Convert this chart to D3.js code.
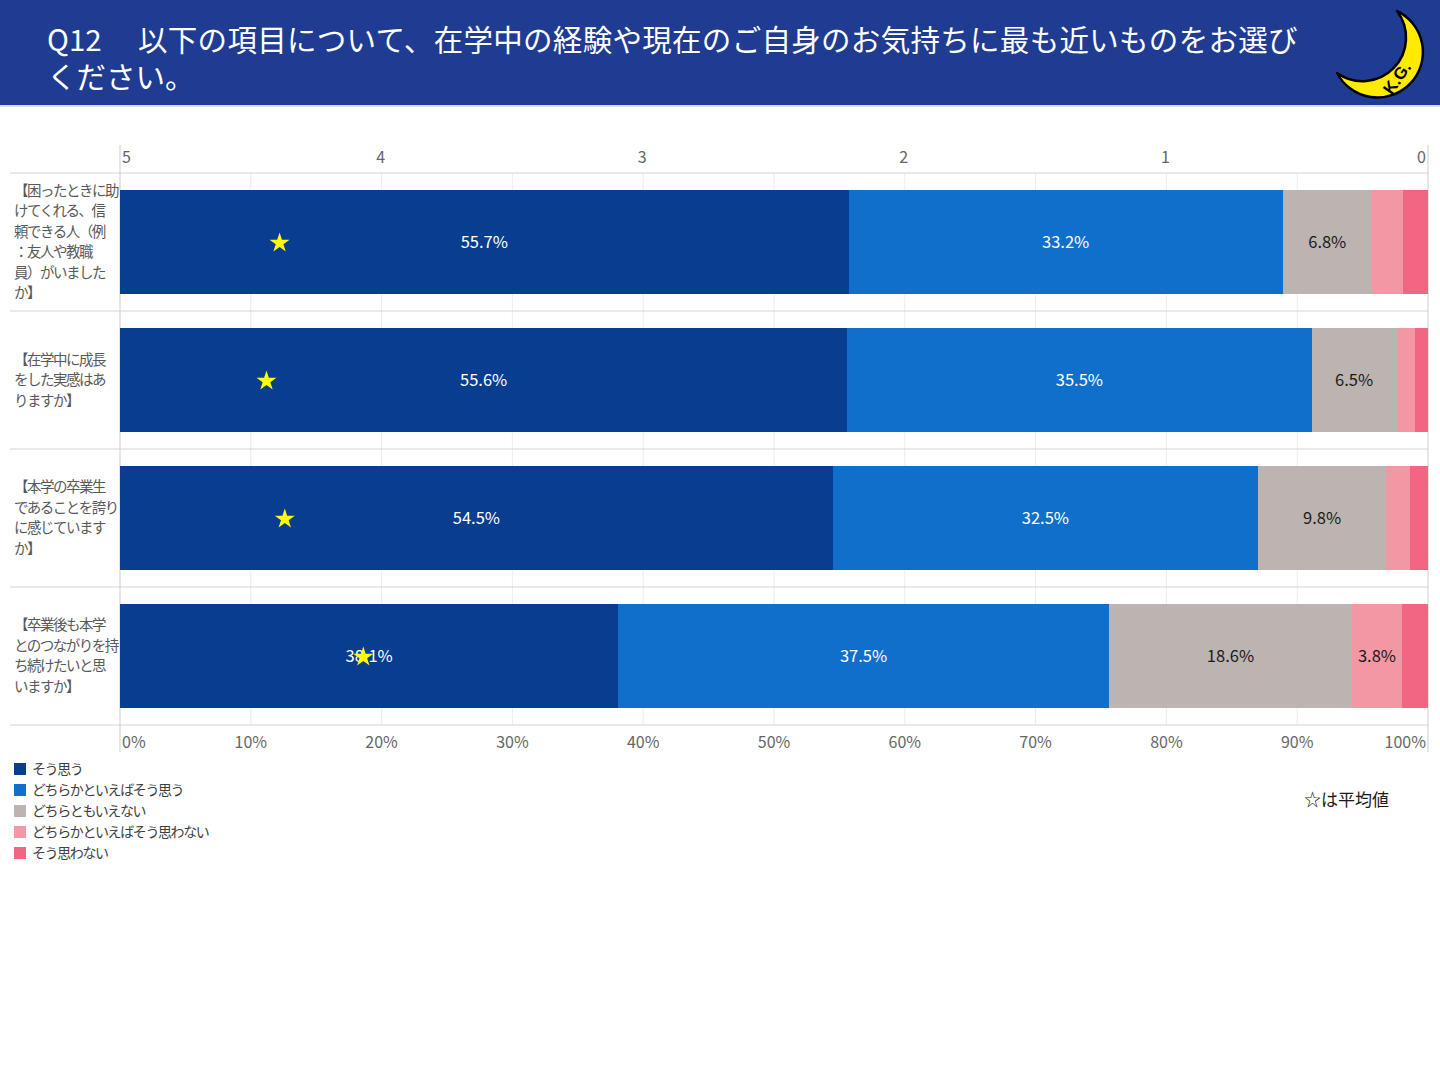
<!DOCTYPE html>
<html>
<head>
<meta charset="utf-8">
<script src="https://cdn.jsdelivr.net/npm/d3@7"></script>
<style>
  html, body { margin: 0; padding: 0; background: #fff; }
  svg { display: block; font-family: "Noto Sans CJK JP", "Noto Sans", sans-serif; }
</style>
</head>
<body>
<div id="chart"></div>
<script>
// question items (wrapped the way the slide wraps them)
var categories = [
    ["【困ったときに助", "けてくれる、信", "頼できる人（例", "：友人や教職", "員）がいました", "か】"],
    ["【在学中に成長", "をした実感はあ", "りますか】"],
    ["【本学の卒業生", "であることを誇り", "に感じています", "か】"],
    ["【卒業後も本学", "とのつながりを持", "ち続けたいと思", "いますか】"]
];
var seriesNames = ["そう思う", "どちらかといえばそう思う", "どちらともいえない", "どちらかといえばそう思わない", "そう思わない"];
var seriesColors = ["#093d8f", "#0f6fcb", "#bcb4b1", "#f497a4", "#f36683"];
var labelColors = ["#ffffff", "#ffffff", "#1a1a1a", "#1a1a1a", "#1a1a1a"];

// percentages per item, one array per answer
var agree        = [55.7, 55.6, 54.5, 38.1];
var ratherAgree  = [33.2, 35.5, 32.5, 37.5];
var neither      = [6.8, 6.5, 9.8, 18.6];
var ratherNot    = [2.4, 1.4, 1.8, 3.8];
var disagree     = [1.9, 1.0, 1.4, 2.0];

// mean score (5 = そう思う ... 1) shown as a star on the top axis
var averages = [4.39, 4.44, 4.37, 4.07];

var pctTicks = [0, 10, 20, 30, 40, 50, 60, 70, 80, 90, 100];
var scoreTicks = [5, 4, 3, 2, 1, 0];

var titleLead = "Q12";
var titleLine1 = "以下の項目について、在学中の経験や現在のご自身のお気持ちに最も近いものをお選び";
var titleLine2 = "ください。";
var noteText = "☆は平均値";

var width = 1440, height = 1080;
var plotLeft = 120, plotRight = 1428, plotTop = 173, plotBottom = 725;

var svg = d3.select("#chart").append("svg")
    .attr("width", width)
    .attr("height", height);

// header band
svg.append("rect").attr("x", 0).attr("y", 0).attr("width", width).attr("height", 105).attr("fill", "#1f3c92");
svg.append("rect").attr("x", 0).attr("y", 105).attr("width", width).attr("height", 2).attr("fill", "#d5deef");

var title = svg.append("text").attr("fill", "#fff").attr("font-size", 29.5);
title.append("tspan").attr("x", 47).attr("y", 51).text(titleLead);
title.append("tspan").attr("x", 138).attr("y", 51).attr("letter-spacing", 0.3).text(titleLine1);
title.append("tspan").attr("x", 47).attr("y", 88).attr("letter-spacing", 0).text(titleLine2);

// moon logo
var moon = svg.append("g");
moon.append("path")
    .attr("d", "M1397,11 A45.5,45.5 0 1 1 1337,73 A43.6,43.6 0 0 0 1397,11 Z")
    .attr("fill", "#ffeb00")
    .attr("stroke", "#000")
    .attr("stroke-width", 2.5)
    .attr("stroke-linejoin", "round");
moon.append("text")
    .attr("transform", "translate(1397,78) rotate(-55)")
    .attr("text-anchor", "middle")
    .attr("dy", "0.35em")
    .attr("font-family", "Liberation Sans, Arial, sans-serif")
    .attr("font-size", 17)
    .attr("font-weight", "bold")
    .attr("fill", "#000")
    .text("K.G.");

// scales
var x = d3.scaleLinear().domain([0, 100]).range([plotLeft, plotRight]);
var xScore = d3.scaleLinear().domain([5, 0]).range([plotLeft, plotRight]);
var y = d3.scaleBand()
    .domain(d3.range(categories.length))
    .range([plotTop, plotBottom])
    .paddingInner(0.246)
    .paddingOuter(0.123);

// vertical grid
svg.append("g").selectAll("line").data(pctTicks.slice(1, -1)).join("line")
    .attr("x1", function(d) { return x(d); }).attr("x2", function(d) { return x(d); })
    .attr("y1", plotTop).attr("y2", plotBottom)
    .attr("stroke", "#ececec").attr("stroke-width", 1);

// row separators
var step = y.step();
svg.append("g").selectAll("line").data(d3.range(categories.length + 1)).join("line")
    .attr("x1", 10).attr("x2", plotRight)
    .attr("y1", function(i) { return plotTop + i * step; })
    .attr("y2", function(i) { return plotTop + i * step; })
    .attr("stroke", "#d4d4d4").attr("stroke-width", 1);

// left / right frame lines
svg.append("g").selectAll("line").data([plotLeft, plotRight]).join("line")
    .attr("x1", function(d) { return d; }).attr("x2", function(d) { return d; })
    .attr("y1", 145).attr("y2", 752)
    .attr("stroke", "#cfcfcf").attr("stroke-width", 1);

// stacked data
var table = categories.map(function(c, i) {
    return { idx: i, v: [agree[i], ratherAgree[i], neither[i], ratherNot[i], disagree[i]] };
});
var segs = [];
table.forEach(function(row) {
    var acc = 0;
    row.v.forEach(function(v, k) {
        segs.push({ row: row.idx, k: k, x0: acc, x1: acc + v, v: v });
        acc += v;
    });
});

svg.append("g").selectAll("rect").data(segs).join("rect")
    .attr("x", function(d) { return x(d.x0); })
    .attr("width", function(d) { return x(d.x1) - x(d.x0); })
    .attr("y", function(d) { return y(d.row); })
    .attr("height", y.bandwidth())
    .attr("fill", function(d) { return seriesColors[d.k]; })
    .attr("shape-rendering", "crispEdges");

svg.append("g").selectAll("text").data(segs.filter(function(d) { return d.v >= 3; })).join("text")
    .attr("x", function(d) { return (x(d.x0) + x(d.x1)) / 2; })
    .attr("y", function(d) { return y(d.row) + y.bandwidth() / 2; })
    .attr("dy", "0.35em")
    .attr("text-anchor", "middle")
    .attr("font-size", 16.5)
    .attr("fill", function(d) { return labelColors[d.k]; })
    .text(function(d) { return d.v.toFixed(1) + "%"; });

// average stars
svg.append("g").selectAll("path").data(averages).join("path")
    .attr("d", d3.symbol(d3.symbolStar).size(125))
    .attr("transform", function(d, i) {
        return "translate(" + xScore(d) + "," + (y(i) + y.bandwidth() / 2 + 1) + ")";
    })
    .attr("fill", "#ffff00");

// category labels
var lineH = 20.5;
var catG = svg.append("g");
categories.forEach(function(lines, i) {
    var cy = y(i) + y.bandwidth() / 2;
    var t = catG.append("text")
        .attr("font-size", 14.5)
        .attr("letter-spacing", -1.5)
        .attr("fill", "#595959");
    lines.forEach(function(s, j) {
        t.append("tspan")
            .attr("x", 14)
            .attr("y", cy + (j - (lines.length - 1) / 2) * lineH)
            .attr("dy", "0.35em")
            .text(s);
    });
});

// top score axis
svg.append("g").selectAll("text").data(scoreTicks).join("text")
    .attr("x", function(d, i) {
        if (i === 0) return xScore(d) + 2;
        if (i === scoreTicks.length - 1) return xScore(d) - 2;
        return xScore(d) - 1;
    })
    .attr("y", 157)
    .attr("dy", "0.35em")
    .attr("text-anchor", function(d, i) { return i === 0 ? "start" : (i === scoreTicks.length - 1 ? "end" : "middle"); })
    .attr("font-size", 16)
    .attr("fill", "#666")
    .text(function(d) { return d; });

// bottom percent axis
svg.append("g").selectAll("text").data(pctTicks).join("text")
    .attr("x", function(d, i) {
        if (i === 0) return x(d) + 2;
        if (i === pctTicks.length - 1) return x(d) - 2;
        return x(d);
    })
    .attr("y", 742)
    .attr("dy", "0.35em")
    .attr("text-anchor", function(d, i) { return i === 0 ? "start" : (i === pctTicks.length - 1 ? "end" : "middle"); })
    .attr("font-size", 16)
    .attr("fill", "#666")
    .text(function(d) { return d + "%"; });

// legend
var leg = svg.append("g").selectAll("g").data(seriesNames).join("g")
    .attr("transform", function(d, i) { return "translate(14," + (769 + i * 21) + ")"; });
leg.append("rect").attr("x", 0).attr("y", -6).attr("width", 12).attr("height", 12)
    .attr("fill", function(d, i) { return seriesColors[i]; });
leg.append("text").attr("x", 18).attr("y", 0).attr("dy", "0.35em")
    .attr("font-size", 14).attr("letter-spacing", -1.4).attr("fill", "#404040")
    .text(function(d) { return d; });

svg.append("text").attr("x", 1304).attr("y", 800).attr("dy", "0.35em")
    .attr("font-size", 17).attr("fill", "#1a1a1a")
    .text(noteText);
</script>
</body>
</html>
